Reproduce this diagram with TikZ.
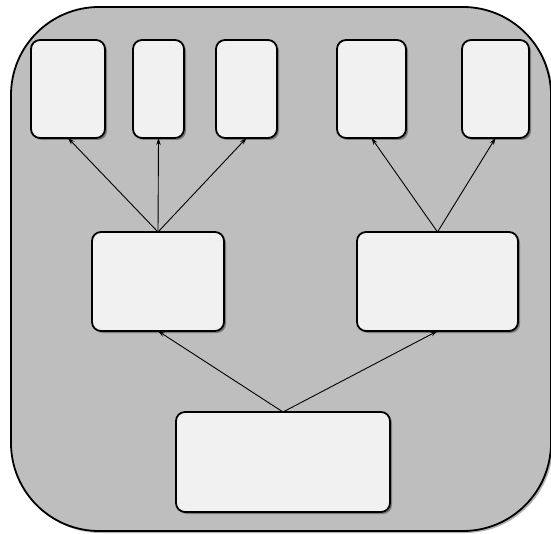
\documentclass[tikz,border=0pt]{standalone}
\usetikzlibrary{arrows.meta,shadows}
\definecolor{outerfill}{HTML}{BEBEBE}
\definecolor{boxfill}{HTML}{F1F1F1}
\tikzset{
  box/.style={draw=black, line width=1.8pt, fill=boxfill, rounded corners=9pt,
    inner sep=0pt, outer sep=0pt,
    drop shadow={shadow xshift=2pt, shadow yshift=-2pt, opacity=0.35, fill=black}},
  conn/.style={line width=0.9pt, -{Stealth[length=7pt,width=4.5pt]}}
}
\begin{document}
\begin{tikzpicture}[x=1pt,y=-1pt]
\useasboundingbox (0,0) rectangle (551,534);
\begin{scope}
\clip (0,0) rectangle (551,534);
\fill[black, opacity=0.3, rounded corners=88pt] (13,9) rectangle (553,533);
\draw[line width=1.8pt, fill=outerfill, rounded corners=88pt] (11,7) rectangle (551,531);
\end{scope}
% top boxes
\node[box, minimum width=74pt, minimum height=98pt] (t1) at (68,89) {};
\node[box, minimum width=51pt, minimum height=98pt] (t2) at (158.5,89) {};
\node[box, minimum width=61pt, minimum height=98pt] (t3) at (246.5,89) {};
\node[box, minimum width=69pt, minimum height=98pt] (t4) at (371.5,89) {};
\node[box, minimum width=67pt, minimum height=98pt] (t5) at (495.5,89) {};
% middle boxes
\node[box, minimum width=132pt, minimum height=99pt] (m1) at (158,281.5) {};
\node[box, minimum width=161pt, minimum height=99pt] (m2) at (437.5,281.5) {};
% bottom box
\node[box, minimum width=214pt, minimum height=100pt] (b) at (283,462) {};
% connectors
\draw[conn] (m1.north) -- (t1.south);
\draw[conn] (m1.north) -- (t2.south);
\draw[conn] (m1.north) -- (t3.south);
\draw[conn] (m2.north) -- (t4.south);
\draw[conn] (m2.north) -- (t5.south);
\draw[conn] (b.north) -- (m1.south);
\draw[conn] (b.north) -- (m2.south);
\end{tikzpicture}
\end{document}
